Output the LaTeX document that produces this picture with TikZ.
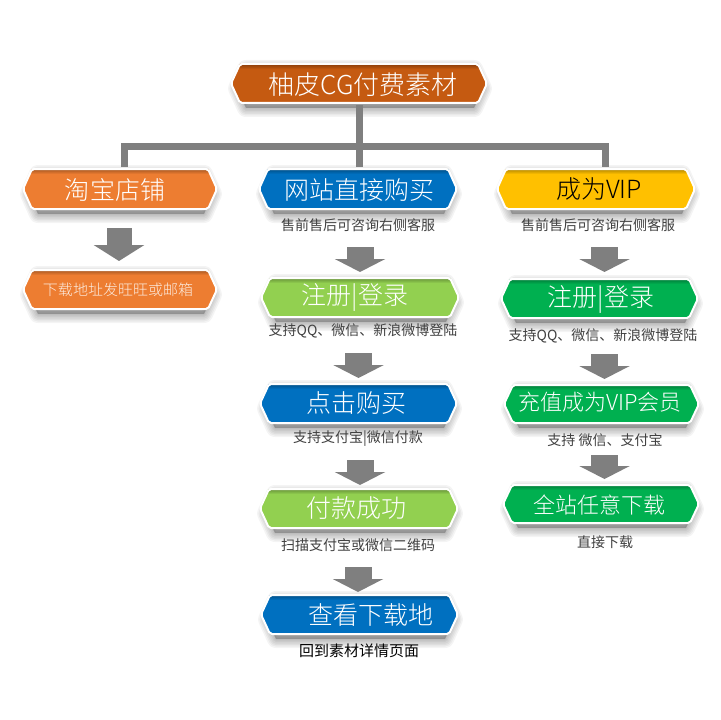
\documentclass[tikz,border=0pt]{standalone}
\usepackage{fontspec}
\setmainfont{Noto Sans CJK SC Light}
\newfontfamily\capfont{Noto Sans CJK SC}
\usetikzlibrary{arrows.meta,calc}
\definecolor{cTop}{HTML}{C55A11}
\definecolor{cOrange}{HTML}{ED7D31}
\definecolor{cBlue}{HTML}{0070C0}
\definecolor{cYellow}{HTML}{FFC000}
\definecolor{cLime}{HTML}{92D050}
\definecolor{cGreen}{HTML}{00B050}
\definecolor{cLine}{HTML}{7F7F7F}
\definecolor{cCap}{HTML}{404040}
\tikzset{
  connector/.style={draw=cLine,line width=7bp,line join=miter,shorten <=2bp,shorten >=2bp},
  blockarrow/.style={draw=cLine,line width=27bp,-{Triangle[length=13bp,width=50bp]}},
  blockarrowbig/.style={draw=cLine,line width=25bp,-{Triangle[length=16bp,width=50bp]}},
  boxanchor/.style={inner sep=0pt,outer sep=0pt,rectangle},
  boxtext/.style={inner sep=0pt,outer sep=0pt},
  capt/.style={inner sep=0pt,outer sep=0pt,text=cCap,font=\capfont}
}
\newcommand{\pxf}[1]{\fontsize{#1bp}{#1bp}\selectfont}
% name x1 x2 y1 y2 colour textcolour textpos text
\newcommand{\hexbox}[9]{%
  \def\hexpath{(#2,{(#4+#5)/2}) -- (#2+9,#4) -- (#3-9,#4) -- (#3,{(#4+#5)/2}) -- (#3-9,#5) -- (#2+9,#5) -- cycle}%
  \def\shadowpath{(#2+5,{(#4+#5)/2}) -- (#2+14,#4) -- (#3-14,#4) -- (#3-5,{(#4+#5)/2}) -- (#3-14,#5) -- (#2+14,#5) -- cycle}%
  \foreach \w in {18,15,12,9,6,3}{
    \path[draw=black,fill=black,opacity=0.045,line join=round,line width=\w bp,shift={(1,5)}] \shadowpath;
  }
  \begin{scope}
    \clip \hexpath;
    \fill[#6] (#2,#4) rectangle (#3,#5);
    \shade[top color=#6!70!black,bottom color=#6] (#2,#4) rectangle (#3,#4+5);
  \end{scope}
  \draw[white,line width=2bp,line join=round,rounded corners=2bp] \hexpath;
  \node[boxanchor,minimum width={(#3-#2)*1bp},minimum height={(#5-#4)*1bp}] (#1) at ({(#2+#3)/2},{(#4+#5)/2}) {};
  \node[boxtext,text=#7] (#1-t) at (#8) {#9};%
}
\newcommand{\barrow}[5]{%
  \draw[blockarrow,shorten <=#4bp,shorten >=#5bp] (#1.south -| #3,0) -- (#2.north -| #3,0);%
}
\begin{document}
\begin{tikzpicture}[x=1bp,y=-1bp]
\useasboundingbox (0,0) rectangle (720,720);
\fill[white] (0,0) rectangle (720,720);

\hexbox{top}{231}{487}{64}{103}{cTop}{white}{363,85}{\pxf{26}柚皮CG付费素材}
\hexbox{shop}{23}{217}{169}{209}{cOrange}{white}{115,190}{\pxf{25}淘宝店铺}
\hexbox{site}{259}{457}{169}{209}{cBlue}{white}{359,190}{\pxf{25}网站直接购买}
\hexbox{vip}{497}{695}{169}{209}{cYellow}{black}{599,189}{\pxf{25}成为VIP}

% connectors
\coordinate (hubL) at (124.5,146);
\coordinate (hubR) at (605,146);
\coordinate (hubC) at (359,146);
\draw[connector] (top.south -| hubC) -- (site.north -| hubC);
\draw[connector] (shop.north -| hubL) -- (hubL) -- (hubR) -- (vip.north -| hubR);

% column 1
\hexbox{mail}{23}{217}{270}{309}{cOrange}{white!85!cOrange}{118,290}{\pxf{15}下载地址发旺旺或邮箱}
\draw[blockarrowbig,shorten <=19bp,shorten >=9bp] (shop.south -| 119,0) -- (mail.north -| 119,0);

% column 2
\node[capt] (c21) at (358,225) {\pxf{14}售前售后可咨询右侧客服};
\hexbox{reg2}{261}{459}{278}{317}{cLime}{white}{355,297}{\pxf{25}注册|登录}
\barrow{site}{reg2}{360}{38}{6}
\node[capt] (c22) at (363,331) {\pxf{14}支持QQ、微信、新浪微博登陆};
\hexbox{buy}{260}{457}{384}{423}{cBlue}{white}{356,403}{\pxf{25}点击购买}
\barrow{reg2}{buy}{358.5}{36}{6}
\node[capt] (c23) at (358,439) {\pxf{14}支持支付宝|微信付款};
\hexbox{paid}{260}{458}{489}{528}{cLime}{white}{356,508}{\pxf{25}付款成功}
\barrow{buy}{paid}{360}{37}{4}
\node[capt] (c24) at (358,545) {\pxf{14}扫描支付宝或微信二维码};
\hexbox{look}{261}{458}{595}{634}{cBlue}{white}{371,615}{\pxf{25}查看下载地}
\barrow{paid}{look}{358}{39}{3}
\node[capt,text=black] (c25) at (359,651) {\pxf{15}回到素材详情页面};

% column 3
\node[capt] (c31) at (598,225) {\pxf{14}售前售后可咨询右侧客服};
\hexbox{reg3}{501}{698}{279}{318}{cGreen}{white}{601,299}{\pxf{25}注册|登录}
\barrow{vip}{reg3}{604.5}{38}{7}
\node[capt] (c32) at (603,336) {\pxf{14}支持QQ、微信、新浪微博登陆};
\hexbox{charge}{504}{699}{385}{423}{cGreen}{white}{600,402}{\pxf{22}充值成为VIP会员}
\barrow{reg3}{charge}{604.5}{36}{6}
\node[capt] (c33) at (605,440) {\pxf{14}支持 微信、支付宝};
\hexbox{all}{503}{699}{485}{523}{cGreen}{white}{599,505}{\pxf{22}全站任意下载}
\barrow{charge}{all}{604.5}{32}{6}
\node[capt] (c34) at (605,542) {\pxf{14}直接下载};
\end{tikzpicture}
\end{document}
